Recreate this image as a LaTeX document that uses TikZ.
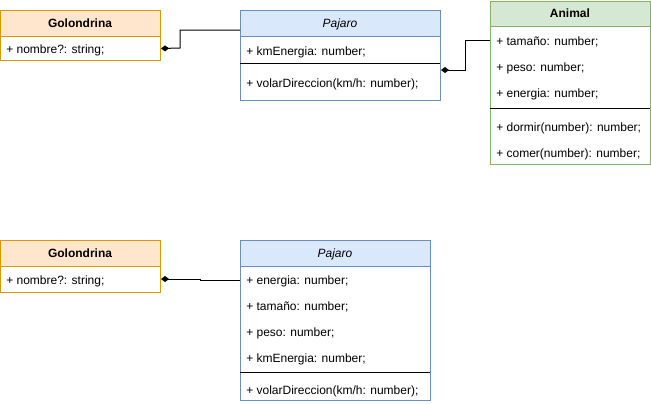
\documentclass[tikz,border=0pt]{standalone}
\usepackage{fontspec}
\setmainfont{Liberation Sans}
\usetikzlibrary{arrows.meta}
\definecolor{orFill}{HTML}{FFE6CC}
\definecolor{orLine}{HTML}{D79B00}
\definecolor{blFill}{HTML}{DAE8FC}
\definecolor{blLine}{HTML}{6C8EBF}
\definecolor{grFill}{HTML}{D5E8D4}
\definecolor{grLine}{HTML}{82B366}
\tikzset{
  box/.style={draw, rectangle, anchor=north west, inner sep=0pt, line width=0.75pt},
  orbox/.style={box, draw=orLine},
  blbox/.style={box, draw=blLine},
  grbox/.style={box, draw=grLine},
  txt/.style={anchor=base west, inner sep=0pt, font=\fontsize{9pt}{11pt}\selectfont},
  ttl/.style={anchor=base, inner sep=0pt, font=\fontsize{9pt}{11pt}\selectfont\bfseries},
  ittl/.style={anchor=base, inner sep=0pt, font=\fontsize{9pt}{11pt}\selectfont\itshape},
  sep/.style={line width=0.75pt, black},
  conn/.style={line width=0.75pt, {Diamond[length=6pt,width=4.5pt]}-}
}
\begin{document}
\begin{tikzpicture}[x=0.75pt,y=-0.75pt]
\useasboundingbox (0,0) rectangle (651,404);
% ---------- top Golondrina
\node[orbox, fill=orFill, minimum width=120pt, minimum height=19.5pt] (g1h) at (0,10) {};
\node[orbox, fill=white, minimum width=120pt, minimum height=18pt] (g1b) at (0,36) {};
\node[ttl] (g1t) at (80,27.5) {Golondrina};
\node[txt] (g1a) at (6,53) {+ nombre?: string;};
% ---------- top Pajaro
\node[blbox, fill=blFill, minimum width=150pt, minimum height=19.5pt] (p1h) at (240,10) {};
\node[blbox, fill=white, minimum width=150pt, minimum height=48pt] (p1b) at (240,36) {};
\node[ittl] (p1t) at (340,27.5) {Pajaro};
\node[txt] (p1a) at (246,55) {+ kmEnergia: number;};
\draw[sep] (240,63.5) -- (440,63.5);
\node[txt] (p1m) at (246,87) {+ volarDireccion(km/h: number);};
% ---------- Animal
\node[grbox, fill=grFill, minimum width=120pt, minimum height=19.5pt] (ah) at (490,0.5) {};
\node[grbox, fill=white, minimum width=120pt, minimum height=103.5pt] (ab) at (490,26) {};
\node[ttl] (at) at (570,17.5) {Animal};
\node[txt] (a1) at (496,45) {+ tamaño: number;};
\node[txt] (a2) at (496,71) {+ peso: number;};
\node[txt] (a3) at (496,97) {+ energia: number;};
\draw[sep] (490,108) -- (650,108);
\node[txt] (a4) at (496,131) {+ dormir(number): number;};
\node[txt] (a5) at (496,157) {+ comer(number): number;};
% ---------- bottom Golondrina
\node[orbox, fill=orFill, minimum width=120pt, minimum height=19.5pt] (g2h) at (0,240) {};
\node[orbox, fill=white, minimum width=120pt, minimum height=19.5pt] (g2b) at (0,266) {};
\node[ttl] (g2t) at (80,257.5) {Golondrina};
\node[txt] (g2a) at (6,284) {+ nombre?: string;};
% ---------- bottom Pajaro
\node[blbox, fill=blFill, minimum width=142.5pt, minimum height=19.5pt] (p2h) at (240,240) {};
\node[blbox, fill=white, minimum width=142.5pt, minimum height=100.5pt] (p2b) at (240,266) {};
\node[ittl] (p2t) at (335,257.5) {Pajaro};
\node[txt] (p2a) at (246,284) {+ energia: number;};
\node[txt] (p2c) at (246,310) {+ tamaño: number;};
\node[txt] (p2d) at (246,336) {+ peso: number;};
\node[txt] (p2e) at (246,362) {+ kmEnergia: number;};
\draw[sep] (240,372.5) -- (430,372.5);
\node[txt] (p2m) at (246,394) {+ volarDireccion(km/h: number);};
% ---------- connectors
\coordinate (p1in) at (p1h.west |- 0,30);
\coordinate (p1out) at (p1b.east |- 0,70);
\coordinate (ain) at (ab.west |- 0,40);
\coordinate (g2out) at (g2b.east |- 0,279);
\coordinate (p2in) at (p2b.west |- 0,280);
\draw[conn] (g1b.east) -- (180,48) -- (180,30) -- (p1in);
\draw[conn] (p1out) -- (465,70) -- (465,40) -- (ain);
\draw[conn] (g2out) -- (200,279) -- (200,280) -- (p2in);
\end{tikzpicture}
\end{document}
